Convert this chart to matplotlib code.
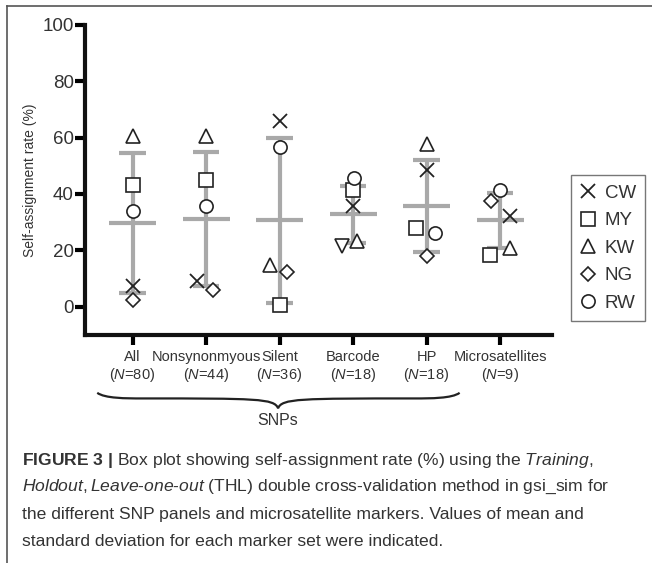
import numpy as np
import matplotlib.pyplot as plt
from matplotlib.path import Path
from matplotlib.patches import PathPatch

plt.rcParams['font.family'] = ['Liberation Sans', 'DejaVu Sans']
plt.rcParams['mathtext.fontset'] = 'custom'
plt.rcParams['mathtext.rm'] = 'Liberation Sans'
plt.rcParams['mathtext.it'] = 'Liberation Sans:italic'
plt.rcParams['mathtext.bf'] = 'Liberation Sans:bold'

# marker sets and sample sizes
groups = ['All', 'Nonsynonmyous', 'Silent', 'Barcode', 'HP', 'Microsatellites']
n_markers = [80, 44, 36, 18, 18, 9]

# self-assignment rate (%) per population
cw = [7.5, 9.0, 66.0, 35.6, 48.6, 32.3]
my = [43.3, 45.0, 0.7, 41.5, 28.1, 18.2]
kw = [60.5, 60.5, 14.9, 23.2, 57.8, 20.9]
ng = [2.5, 5.8, 12.3, 21.6, 18.1, 37.4]
rw = [34.0, 35.6, 56.5, 45.6, 26.1, 41.5]

# mean and standard deviation per marker set
means = [29.7, 31.1, 30.6, 32.8, 35.8, 30.6]
sds = [24.7, 23.9, 29.2, 10.2, 16.4, 9.8]

# small horizontal offsets so overlapping symbols stay readable
off_cw = [0, -0.12, 0, 0, 0, 0.14]
off_my = [0, 0, 0, 0, -0.15, -0.14]
off_kw = [0, 0, -0.13, 0.05, 0, 0.13]
off_ng = [0, 0.10, 0.10, -0.15, 0, -0.13]
off_rw = [0, 0, 0, 0.01, 0.11, 0]

fig = plt.figure(figsize=(6.52, 5.63), dpi=100)
ax = fig.add_axes([0.130, 0.405, 0.717, 0.551])

x = np.arange(len(groups))
grey = '#a9a9a9'
for xi, m, s in zip(x, means, sds):
    ax.plot([xi, xi], [m - s, m + s], color=grey, lw=3, zorder=1, solid_capstyle='butt')
    ax.plot([xi - 0.32, xi + 0.32], [m, m], color=grey, lw=3, zorder=1, solid_capstyle='butt')
    ax.plot([xi - 0.18, xi + 0.18], [m + s, m + s], color=grey, lw=3, zorder=1, solid_capstyle='butt')
    ax.plot([xi - 0.18, xi + 0.18], [m - s, m - s], color=grey, lw=3, zorder=1, solid_capstyle='butt')

ms = 9.5
kw_style = dict(linestyle='none', mfc='white', mec='#222222', mew=1.2, ms=ms, zorder=3)
ax.plot(x + np.array(off_cw), cw, marker='x', label='CW', mfc='none', mec='#222222',
        mew=1.3, ms=ms, linestyle='none', zorder=3)
ax.plot(x + np.array(off_my), my, marker='s', label='MY', **kw_style)
ax.plot(x + np.array(off_kw), kw, marker='^', label='KW', **kw_style)
# the barcode NG point is drawn as a downward triangle in the original figure
ng_x = x + np.array(off_ng)
ax.plot(np.delete(ng_x, 3), np.delete(ng, 3), marker='D', label='NG',
        linestyle='none', mfc='white', mec='#222222', mew=1.2, ms=7.5, zorder=3)
ax.plot(ng_x[3], ng[3], marker='v', linestyle='none', mfc='white', mec='#222222',
        mew=1.2, ms=ms, zorder=3)
ax.plot(x + np.array(off_rw), rw, marker='o', label='RW', **kw_style)

ax.set_xlim(-0.65, 5.71)
ax.set_ylim(-10, 100)
ax.set_yticks([0, 20, 40, 60, 80, 100])
ax.set_xticks(x)
ax.set_xticklabels(['%s\n($\\it{N}$=%d)' % (g, n) for g, n in zip(groups, n_markers)],
                   fontsize=10.5, color='#333333', linespacing=1.1)
ax.tick_params(axis='y', labelsize=13.5, labelcolor='#333333', width=3, length=7, pad=1)
ax.tick_params(axis='x', width=3, length=7, pad=4)
for side in ['top', 'right']:
    ax.spines[side].set_visible(False)
for side in ['left', 'bottom']:
    ax.spines[side].set_linewidth(3)
    ax.spines[side].set_color('#111111')
ax.set_ylabel('Self-assignment rate (%)', fontsize=10, color='#333333', labelpad=4)

leg = ax.legend(loc='center left', bbox_to_anchor=(1.02, 0.28), frameon=True, fancybox=False,
                fontsize=13.5, handlelength=0.8, handletextpad=0.5, labelspacing=0.55,
                borderpad=0.5, edgecolor='#555555')
leg.get_frame().set_linewidth(1)
for t in leg.get_texts():
    t.set_color('#333333')

# curly brace under the SNP panels
x0, x1, xm = -0.48, 4.45, 1.98
yt, yb, ytip = -30.5, -32.5, -36.0
verts = [(x0, yt), (x0 + 0.1, yb), (x0 + 0.4, yb), (x0 + 0.6, yb),
         (xm - 0.3, yb), (xm - 0.05, yb), (xm, ytip),
         (xm + 0.05, yb), (xm + 0.3, yb), (x1 - 0.6, yb),
         (x1 - 0.4, yb), (x1 - 0.1, yb), (x1, yt)]
codes = [Path.MOVETO] + [Path.CURVE4] * 12
ax.add_patch(PathPatch(Path(verts, codes), fc='none', ec='#222222', lw=1.6, clip_on=False))
ax.text(xm, -40.5, 'SNPs', ha='center', va='center', fontsize=11.5, color='#333333')

# figure frame lines
fig.add_artist(plt.Line2D([0.011, 1.0], [0.989, 0.989], color='#555555', lw=1.2))
fig.add_artist(plt.Line2D([0.011, 0.011], [0.0, 0.989], color='#555555', lw=1.2))

cap_y = 1 - 460 / 563.0
step = 27.0 / 563
cap = dict(fontsize=12.6, color='#333333', va='center')
fig.text(0.034, cap_y,
         '$\\bf{FIGURE\\ 3\\ |}$ Box plot showing self-assignment rate (%) using the $\\it{Training,}$',
         **cap)
fig.text(0.034, cap_y - step,
         '$\\it{Holdout,}$$\\it{Leave}$-$\\it{one}$-$\\it{out}$ (THL) double cross-validation method in gsi_sim for',
         **cap)
fig.text(0.034, cap_y - 2 * step,
         'the different SNP panels and microsatellite markers. Values of mean and', **cap)
fig.text(0.034, cap_y - 3 * step, 'standard deviation for each marker set were indicated.', **cap)

plt.savefig('out.png', dpi=100)
